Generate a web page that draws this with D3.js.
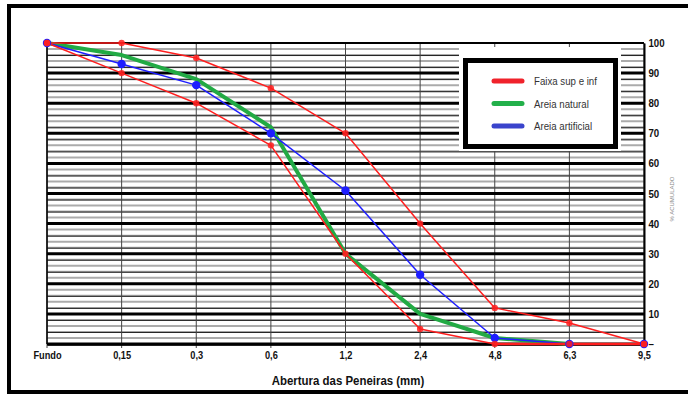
<!DOCTYPE html>
<html>
<head>
<meta charset="utf-8">
<script src="https://cdn.jsdelivr.net/npm/d3@7"></script>
<style>
  body { margin: 0; background: #fff; }
  text { font-family: 'Liberation Sans Narrow', 'Arial Narrow', 'Liberation Sans', Arial, sans-serif; }
</style>
</head>
<body>
<div id="chart_container"></div>
<script>
// data
const categories = ['Fundo', '0,15', '0,3', '0,6', '1,2', '2,4', '4,8', '6,3', '9,5'];
const faixaSup = [100, 100, 95, 85, 70, 40, 12, 7, 0];
const faixaInf = [100, 90, 80, 66, 30, 5, 0, 0, 0];
const areiaNatural = [100, 96, 88, 72, 30, 10, 2, 0, null];
const areiaArtificial = [100, 93, 86, 70, 51, 23, 2, 0, 0];
const yTicks = [0, 10, 20, 30, 40, 50, 60, 70, 80, 90, 100];
const legendItems = [
  { name: 'Faixa sup e inf', color: '#f0222b' },
  { name: 'Areia natural', color: '#22b04a' },
  { name: 'Areia artificial', color: '#3a44cc' },
];

const WIDTH = 688;
const HEIGHT = 396;
const RED = '#ff1e1e';
const BLUE = '#1e1eff';
const GREEN = '#22aa44';
const NARROW = 'scale(0.88,1)'; // no narrow font installed, squeeze the text

const svg = d3
  .select('#chart_container')
  .append('svg')
  .attr('width', WIDTH)
  .attr('height', HEIGHT);

// scales
const scaleX = d3.scalePoint().domain(categories).range([47, 644]);
const scaleY = d3.scaleLinear().domain([0, 100]).range([344, 43]);

// outer frame
svg
  .append('rect')
  .attr('x', 9)
  .attr('y', 6)
  .attr('width', 700)
  .attr('height', 386)
  .attr('fill', 'none')
  .attr('stroke', '#000')
  .attr('stroke-width', 4);

// minor grid every 2 units
const minor = d3.range(2, 100, 2).filter((v) => v % 10 !== 0);
const grid = svg.append('g');
grid
  .selectAll('.minor')
  .data(minor)
  .join('line')
  .attr('x1', scaleX.range()[0])
  .attr('x2', scaleX.range()[1])
  .attr('y1', (d) => scaleY(d))
  .attr('y2', (d) => scaleY(d))
  .attr('stroke', '#ababab')
  .attr('stroke-width', 2);
grid
  .selectAll('.minorDark')
  .data(minor.filter((v) => v % 4 === 0))
  .join('line')
  .attr('x1', scaleX.range()[0])
  .attr('x2', scaleX.range()[1])
  .attr('y1', (d) => scaleY(d) + 0.5)
  .attr('y2', (d) => scaleY(d) + 0.5)
  .attr('stroke', '#222')
  .attr('stroke-width', 1);

// legend background hides the grid
svg
  .append('rect')
  .attr('x', 459)
  .attr('y', 47)
  .attr('width', 162)
  .attr('height', 104)
  .attr('fill', '#fff');

// vertical grid
grid
  .selectAll('.vgrid')
  .data(categories)
  .join('line')
  .attr('x1', (d) => scaleX(d))
  .attr('x2', (d) => scaleX(d))
  .attr('y1', scaleY(100))
  .attr('y2', scaleY(0) + 4)
  .attr('stroke', '#444')
  .attr('stroke-width', 1);

// major grid
grid
  .selectAll('.major')
  .data(yTicks)
  .join('line')
  .attr('x1', scaleX.range()[0])
  .attr('x2', scaleX.range()[1])
  .attr('y1', (d) => scaleY(d))
  .attr('y2', (d) => scaleY(d))
  .attr('stroke', '#000')
  .attr('stroke-width', (d) => (d === 100 ? 2 : 3));

// legend box
svg
  .append('rect')
  .attr('x', 465.5)
  .attr('y', 60.5)
  .attr('width', 150)
  .attr('height', 86)
  .attr('fill', '#fff')
  .attr('stroke', '#000')
  .attr('stroke-width', 5);

// axes
const axisY = d3
  .axisRight(scaleY)
  .tickValues(yTicks)
  .tickSize(0)
  .tickPadding(5)
  .tickFormat((d) => (d === 0 ? '–' : d));
svg
  .append('g')
  .attr('transform', `translate(${scaleX.range()[1]},0)`)
  .call(axisY)
  .call((g) => g.select('.domain').attr('stroke', '#000').attr('stroke-width', 2))
  .call((g) =>
    g
      .selectAll('text')
      .attr('font-family', null)
      .attr('font-size', 11)
      .attr('font-weight', 'bold')
      .attr('fill', '#111')
      .attr('transform', NARROW)
  );

const axisX = d3.axisBottom(scaleX).tickSize(0).tickPadding(8);
svg
  .append('g')
  .attr('transform', `translate(0,${scaleY(0)})`)
  .call(axisX)
  .call((g) =>
    g.select('.domain').attr('stroke', '#000').attr('stroke-width', 2.5)
  )
  .call((g) =>
    g
      .selectAll('text')
      .attr('font-family', null)
      .attr('font-size', 10.5)
      .attr('font-weight', 'bold')
      .attr('fill', '#111')
      .attr('transform', NARROW)
  );

svg
  .append('line')
  .attr('x1', scaleX.range()[0])
  .attr('x2', scaleX.range()[0])
  .attr('y1', scaleY(100))
  .attr('y2', scaleY(0))
  .attr('stroke', '#000')
  .attr('stroke-width', 1.5);

// axis titles
svg
  .append('text')
  .attr('transform', `translate(348,385) ${NARROW}`)
  .attr('text-anchor', 'middle')
  .attr('font-size', 13)
  .attr('font-weight', 'bold')
  .attr('fill', '#111')
  .text('Abertura das Peneiras (mm)');

svg
  .append('text')
  .attr('transform', 'translate(674,199) rotate(-90)')
  .attr('text-anchor', 'middle')
  .attr('font-size', 6)
  .attr('fill', '#888')
  .text('% ACUMULADO');

// lines
const line = d3
  .line()
  .defined((d) => d[1] !== null)
  .x((d) => scaleX(d[0]))
  .y((d) => scaleY(d[1]));
const toPts = (arr) => categories.map((c, i) => [c, arr[i]]);

const series = [
  { values: areiaNatural, color: GREEN, width: 4 },
  { values: areiaArtificial, color: BLUE, width: 1.5 },
  { values: faixaSup, color: RED, width: 1.5 },
  { values: faixaInf, color: RED, width: 1.5 },
];
svg
  .selectAll('.series')
  .data(series)
  .join('path')
  .attr('fill', 'none')
  .attr('stroke', (d) => d.color)
  .attr('stroke-width', (d) => d.width)
  .attr('stroke-linejoin', 'round')
  .attr('d', (d) => line(toPts(d.values)));

// bottom red segment is thicker where the lower band sits on zero
svg
  .append('path')
  .attr('fill', 'none')
  .attr('stroke', RED)
  .attr('stroke-width', 2.5)
  .attr('d', line(toPts(faixaInf).slice(6)));

// markers
svg
  .selectAll('.blueDot')
  .data(toPts(areiaArtificial))
  .join('circle')
  .attr('cx', (d) => scaleX(d[0]))
  .attr('cy', (d) => scaleY(d[1]))
  .attr('r', 4.2)
  .attr('fill', BLUE);

svg
  .selectAll('.redDot')
  .data(toPts(faixaSup).concat(toPts(faixaInf)))
  .join('circle')
  .attr('cx', (d) => scaleX(d[0]))
  .attr('cy', (d) => scaleY(d[1]))
  .attr('r', 3.2)
  .attr('fill', RED)
  .attr('opacity', 0.85);

// legend
const legend = svg
  .selectAll('.legend')
  .data(legendItems)
  .join('g')
  .attr('transform', (d, i) => `translate(492,${81 + i * 22.5})`);
legend
  .append('line')
  .attr('x1', 2)
  .attr('x2', 30)
  .attr('stroke', (d) => d.color)
  .attr('stroke-width', 5)
  .attr('stroke-linecap', 'round');
legend
  .append('text')
  .attr('transform', `translate(42,4) ${NARROW}`)
  .attr('font-size', 11)
  .attr('fill', '#333')
  .text((d) => d.name);
</script>
</body>
</html>
